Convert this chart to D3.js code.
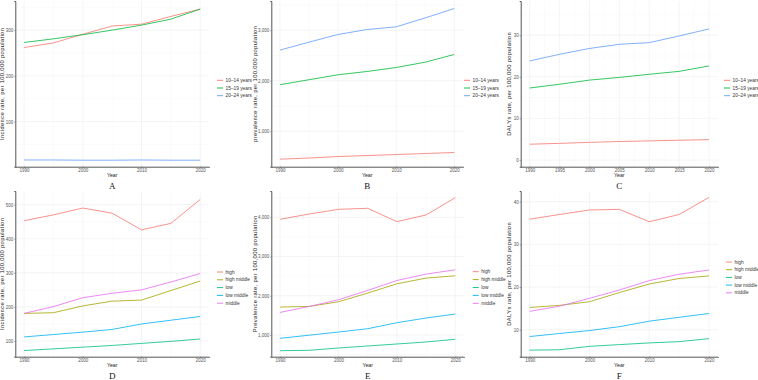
<!DOCTYPE html>
<html>
<head>
<meta charset="utf-8">
<script src="https://cdn.jsdelivr.net/npm/d3@7"></script>
<style>
  body { margin: 0; background: #fff; }
  text { font-family: "Liberation Sans", Arial, sans-serif; }
</style>
</head>
<body>
<svg id="viz"></svg>
<script>
// data
const years = [1990, 1995, 2000, 2005, 2010, 2015, 2020];
const ageGroups = ["10–14 years", "15–19 years", "20–24 years"];
const sdiGroups = ["high", "high middle", "low", "low middle", "middle"];

const incidenceByAge = [
  [262, 272, 291, 309, 313, 330, 346],
  [273, 281, 290, 300, 311, 324, 346],
  [16, 16, 15.5, 15.5, 16, 15.5, 15.5]
];
const prevalenceByAge = [
  [448, 470, 500, 520, 540, 560, 580],
  [1921, 2020, 2118, 2183, 2262, 2367, 2519],
  [2606, 2763, 2915, 3013, 3066, 3243, 3428]
];
const dalysByAge = [
  [3.8, 4.0, 4.25, 4.45, 4.6, 4.75, 4.9],
  [17.3, 18.2, 19.2, 19.85, 20.6, 21.3, 22.6],
  [23.8, 25.4, 26.8, 27.8, 28.2, 29.8, 31.5]
];
const incidenceBySdi = [
  [453, 470, 490, 475, 426, 445, 515],
  [181, 183, 203, 217, 220, 248, 276],
  [72, 77, 82, 87, 93, 99, 106],
  [112, 119, 126, 134, 150, 161, 172],
  [181, 201, 227, 240, 250, 273, 298]
];
const prevalenceBySdi = [
  [3949, 4084, 4203, 4229, 3890, 4059, 4499],
  [1712, 1728, 1847, 2068, 2305, 2450, 2509],
  [600, 610, 669, 720, 771, 822, 890],
  [916, 995, 1076, 1160, 1313, 1433, 1534],
  [1575, 1728, 1898, 2135, 2389, 2552, 2661]
];
const dalysBySdi = [
  [35.9, 37.0, 38.05, 38.2, 35.3, 37.0, 41.0],
  [15.2, 15.7, 16.55, 18.7, 20.7, 22.0, 22.6],
  [5.2, 5.3, 6.1, 6.5, 6.9, 7.2, 7.9],
  [8.4, 9.1, 9.8, 10.7, 12.0, 12.9, 13.8],
  [14.3, 15.5, 17.35, 19.3, 21.5, 23.0, 24.0]
];

const ageColors = ["#F8766D", "#00BA38", "#619CFF"];
const sdiColors = ["#F8766D", "#A3A500", "#00BF7D", "#00B0F6", "#E76BF3"];

// panel layout (pixels relative to each panel's corner)
const panels = [
  {id: "A", ox: 0,   oy: 0,   series: incidenceByAge,  groups: ageGroups, colors: ageColors,
   title: "Incidence rate, per 100,000 population", yDomain: [1.3, 363.7], yTicks: [100, 200, 300],
   xTicks: [1990, 2000, 2010, 2020], left: 15.3, right: 209, titleX: 3.2, legX: 217, legY: 80.3, legStep: 7.7},
  {id: "B", ox: 250, oy: 0,   series: prevalenceByAge, groups: ageGroups, colors: ageColors,
   title: "prevalence rate, per 100,000 population", yDomain: [299, 3577], yTicks: [1000, 2000, 3000],
   xTicks: [1990, 2000, 2010, 2020], left: 21.3, right: 213, titleX: 6, legX: 214, legY: 80.3, legStep: 7.7},
  {id: "C", ox: 500, oy: 0,   series: dalysByAge,      groups: ageGroups, colors: ageColors,
   title: "DALYs rate, per 100,000 population", yDomain: [-1.6, 38.2], yTicks: [0, 10, 20, 30],
   xTicks: years, left: 20.7, right: 218, titleX: 10, legX: 224, legY: 80.3, legStep: 7.7},
  {id: "D", ox: 0,   oy: 190, series: incidenceBySdi,  groups: sdiGroups, colors: sdiColors,
   title: "Incidence rate, per 100,000 population", yDomain: [54, 540], yTicks: [100, 200, 300, 400, 500],
   xTicks: [1990, 2000, 2010, 2020], left: 15.3, right: 209, titleX: 3.2, legX: 217, legY: 82, legStep: 7.8},
  {id: "E", ox: 250, oy: 190, series: prevalenceBySdi, groups: sdiGroups, colors: sdiColors,
   title: "Prevalence rate, per 100,000 population", yDomain: [447, 4670], yTicks: [1000, 2000, 3000, 4000],
   xTicks: [1990, 2000, 2010, 2020], left: 21.3, right: 214, titleX: 6, legX: 222.7, legY: 81.7, legStep: 7.9},
  {id: "F", ox: 500, oy: 190, series: dalysBySdi,      groups: sdiGroups, colors: sdiColors,
   title: "DALYs rate, per 100,000 population", yDomain: [3.67, 42.5], yTicks: [10, 20, 30, 40],
   xTicks: [1990, 2000, 2010, 2020], left: 20.7, right: 218, titleX: 10, legX: 226, legY: 72, legStep: 7.7}
];

const width = 758, height = 380;
const plotTop = 1, plotBottom = 166.7;

const svg = d3.select("#viz").attr("width", width).attr("height", height);
svg.append("rect").attr("width", width).attr("height", height).attr("fill", "#fff");

panels.forEach(function(p) {
  const g = svg.append("g").attr("transform", "translate(" + p.ox + "," + p.oy + ")");

  const x = d3.scaleLinear().domain([1988.5, 2021.5]).range([p.left, p.right]);
  const y = d3.scaleLinear().domain(p.yDomain).range([plotBottom, plotTop]);

  // faint grid, minor lines half way between majors
  const xStep = p.xTicks[1] - p.xTicks[0];
  const yStep = p.yTicks[1] - p.yTicks[0];
  const xMinor = d3.range(p.xTicks[0] - xStep / 2, p.xTicks[p.xTicks.length - 1] + xStep, xStep)
                   .filter(v => v > x.domain()[0] && v < x.domain()[1]);
  const yMinor = d3.range(p.yTicks[0] - yStep / 2, p.yTicks[p.yTicks.length - 1] + yStep, yStep)
                   .filter(v => v > y.domain()[0] && v < y.domain()[1]);

  const grid = g.append("g");
  grid.selectAll(".xmin").data(xMinor).enter().append("line")
      .attr("x1", d => x(d)).attr("x2", d => x(d)).attr("y1", plotTop).attr("y2", plotBottom)
      .attr("stroke", "#f6f6f6").attr("stroke-width", 0.5);
  grid.selectAll(".ymin").data(yMinor).enter().append("line")
      .attr("x1", p.left).attr("x2", p.right).attr("y1", d => y(d)).attr("y2", d => y(d))
      .attr("stroke", "#f6f6f6").attr("stroke-width", 0.5);
  grid.selectAll(".xmaj").data(p.xTicks).enter().append("line")
      .attr("x1", d => x(d)).attr("x2", d => x(d)).attr("y1", plotTop).attr("y2", plotBottom)
      .attr("stroke", "#ececec").attr("stroke-width", 0.6);
  grid.selectAll(".ymaj").data(p.yTicks).enter().append("line")
      .attr("x1", p.left).attr("x2", p.right).attr("y1", d => y(d)).attr("y2", d => y(d))
      .attr("stroke", "#ececec").attr("stroke-width", 0.6);

  // lines
  const line = d3.line().x((d, i) => x(years[i])).y(d => y(d));
  g.selectAll(".series").data(p.series).enter().append("path")
   .attr("d", line)
   .attr("fill", "none")
   .attr("stroke", (d, i) => p.colors[i])
   .attr("stroke-width", 0.8);

  // axes
  const xAxis = g.append("g").attr("transform", "translate(0," + plotBottom + ")")
                 .call(d3.axisBottom(x).tickValues(p.xTicks).tickFormat(d3.format("d")).tickSize(1).tickPadding(1));
  const yAxis = g.append("g").attr("transform", "translate(" + p.left + ",0)")
                 .call(d3.axisLeft(y).tickValues(p.yTicks).tickSize(1).tickPadding(1));
  [xAxis, yAxis].forEach(function(a) {
    a.select(".domain").attr("stroke", "#555").attr("stroke-width", 1);
    a.selectAll(".tick line").attr("stroke", "#555").attr("stroke-width", 0.6);
    a.selectAll(".tick text").attr("fill", "#555").style("font-size", "4.5px")
     .style("font-family", "Liberation Sans, Arial, sans-serif");
  });

  // titles
  const midX = (p.left + p.right) / 2;
  g.append("text").attr("x", midX).attr("y", 177.3).attr("text-anchor", "middle")
   .attr("fill", "#222").style("font-size", "5.2px").text("Year");
  g.append("text")
   .attr("transform", "translate(" + (p.titleX + 1.2) + "," + ((plotTop + plotBottom) / 2) + ") rotate(-90)")
   .attr("text-anchor", "middle").attr("fill", "#222").style("font-size", "5.8px")
   .style("letter-spacing", "0.35px").text(p.title);
  g.append("text").attr("x", midX).attr("y", 188.5).attr("text-anchor", "middle")
   .attr("fill", "#111").style("font-family", "Liberation Serif, Times New Roman, serif")
   .style("font-size", "9px").text(p.id);

  // legend
  const leg = g.selectAll(".leg").data(p.groups).enter().append("g")
               .attr("transform", (d, i) => "translate(" + p.legX + "," + (p.legY + i * p.legStep) + ")");
  leg.append("line").attr("x1", 0).attr("x2", 6).attr("y1", 0).attr("y2", 0)
     .attr("stroke", (d, i) => p.colors[i]).attr("stroke-width", 0.9);
  leg.append("text").attr("x", 8.5).attr("y", 1.6).attr("fill", "#333")
     .style("font-size", "4.8px").text(d => d);
});
</script>
</body>
</html>
